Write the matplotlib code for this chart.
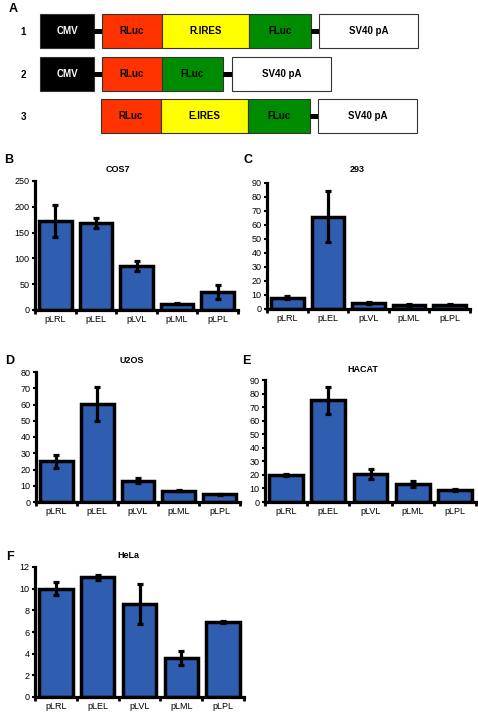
import numpy as np
import matplotlib.pyplot as plt
from matplotlib.patches import Rectangle
from matplotlib.ticker import FixedLocator, NullFormatter, FixedFormatter

plt.rcParams['font.family'] = ['Liberation Sans', 'DejaVu Sans']

W, H = 478, 718

# ---- data ----
plasmids = ['pLRL', 'pLEL', 'pLVL', 'pLML', 'pLPL']

cos7 = [172, 169, 85, 12, 35]
cos7_err = [31, 10, 10, 1, 13]

c293 = [8, 66, 4.2, 2.8, 3.2]
c293_err = [1, 18, 0.5, 0.5, 0.3]

u2os = [25, 60.5, 13, 7, 4.8]
u2os_err = [4, 10.5, 1.5, 0.5, 0.2]

hacat = [20, 75, 20.5, 13, 8.8]
hacat_err = [1, 10, 3.7, 2.2, 0.5]

hela = [10.0, 11.05, 8.57, 3.6, 6.9]
hela_err = [0.63, 0.25, 1.87, 0.63, 0.1]

# construct diagrams (segment name, length in px, colour)
construct_labels = ['1', '2', '3']
construct_start = [40, 40, 101]
construct_segments = [
    [('CMV', 54, 'black'), ('', 8, None), ('RLuc', 60, '#ff3300'), ('R.IRES', 87, '#ffff00'),
     ('FLuc', 62, '#008c00'), ('', 8, None), ('SV40 pA', 99, 'white')],
    [('CMV', 54, 'black'), ('', 8, None), ('RLuc', 60, '#ff3300'), ('FLuc', 61, '#008c00'),
     ('', 9, None), ('SV40 pA', 99, 'white')],
    [('RLuc', 60, '#ff3300'), ('E.IRES', 87, '#ffff00'), ('FLuc', 62, '#008c00'),
     ('', 8, None), ('SV40 pA', 99, 'white')],
]
construct_rows = [31, 74, 116]

fig = plt.figure(figsize=(W / 100, H / 100), dpi=100)

# ---- panel A ----
axA = fig.add_axes([0, 1 - 160 / H, 1, 160 / H])
axA.set_xlim(0, W)
axA.set_ylim(160, 0)
axA.axis('off')
for lab, x0, segs, yc in zip(construct_labels, construct_start, construct_segments, construct_rows):
    axA.text(23, yc + 1, lab, ha='center', va='center', fontsize=7, fontweight='bold')
    x = x0
    for name, w, col in segs:
        if col is None:
            axA.add_patch(Rectangle((x, yc - 2.5), w, 5, facecolor='black', edgecolor='none'))
        else:
            axA.add_patch(Rectangle((x, yc - 17), w, 34, facecolor=col, edgecolor='#333333', lw=0.8))
            axA.text(x + w / 2, yc, name, ha='center', va='center', fontsize=7, fontweight='bold',
                     color='white' if col == 'black' else 'black')
        x += w
fig.text(9 / W, 1 - 9 / H, 'A', fontsize=9, fontweight='bold', ha='left', va='center')


def bar_panel(rect, vals, errs, ymax, ystep, title, letter, title_xy, letter_xy):
    l, t, r, b = rect
    ax = fig.add_axes([l / W, 1 - b / H, (r - l) / W, (b - t) / H])
    x = np.arange(len(vals))
    ax.bar(x, vals, width=0.8, color='#2f5db0', edgecolor='black', linewidth=2.5, zorder=2)
    ax.errorbar(x, vals, yerr=errs, fmt='none', ecolor='black', elinewidth=2.3,
                capsize=2.2, capthick=2.3, zorder=3)
    ax.set_xlim(-0.5, len(vals) - 0.5)
    ax.set_ylim(0, ymax)
    ax.set_yticks(np.arange(0, ymax + ystep / 2, ystep))
    ax.xaxis.set_major_locator(FixedLocator(np.arange(-0.5, len(vals), 1.0)))
    ax.xaxis.set_major_formatter(NullFormatter())
    ax.xaxis.set_minor_locator(FixedLocator(x))
    ax.xaxis.set_minor_formatter(FixedFormatter(plasmids))
    ax.tick_params(axis='x', which='major', length=3, width=2, direction='out')
    ax.tick_params(axis='x', which='minor', length=0, labelsize=6.5, pad=3.5)
    ax.tick_params(axis='y', length=2.5, width=1.5, direction='out', labelsize=6.5, pad=1.5)
    for s in ['top', 'right']:
        ax.spines[s].set_visible(False)
    for s in ['left', 'bottom']:
        ax.spines[s].set_linewidth(2.3)
    fig.text(title_xy[0] / W, 1 - title_xy[1] / H, title, fontsize=6.5, fontweight='bold',
             ha='center', va='center')
    fig.text(letter_xy[0] / W, 1 - letter_xy[1] / H, letter, fontsize=9, fontweight='bold',
             ha='left', va='center')
    return ax


bar_panel((35, 181, 238, 310), cos7, cos7_err, 250, 50, 'COS7', 'B', (118, 170), (4, 160))
bar_panel((267, 183, 470, 309), c293, c293_err, 90, 10, '293', 'C', (357, 170), (243, 160))
bar_panel((36, 372, 240, 502), u2os, u2os_err, 80, 10, 'U2OS', 'D', (132, 361), (5, 361))
bar_panel((265, 380, 476, 502), hacat, hacat_err, 90, 10, 'HACAT', 'E', (363, 369), (242, 361))
bar_panel((35, 567, 244, 697), hela, hela_err, 12, 2, 'HeLa', 'F', (128, 556), (6, 557))

fig.savefig('out.png', dpi=100)
